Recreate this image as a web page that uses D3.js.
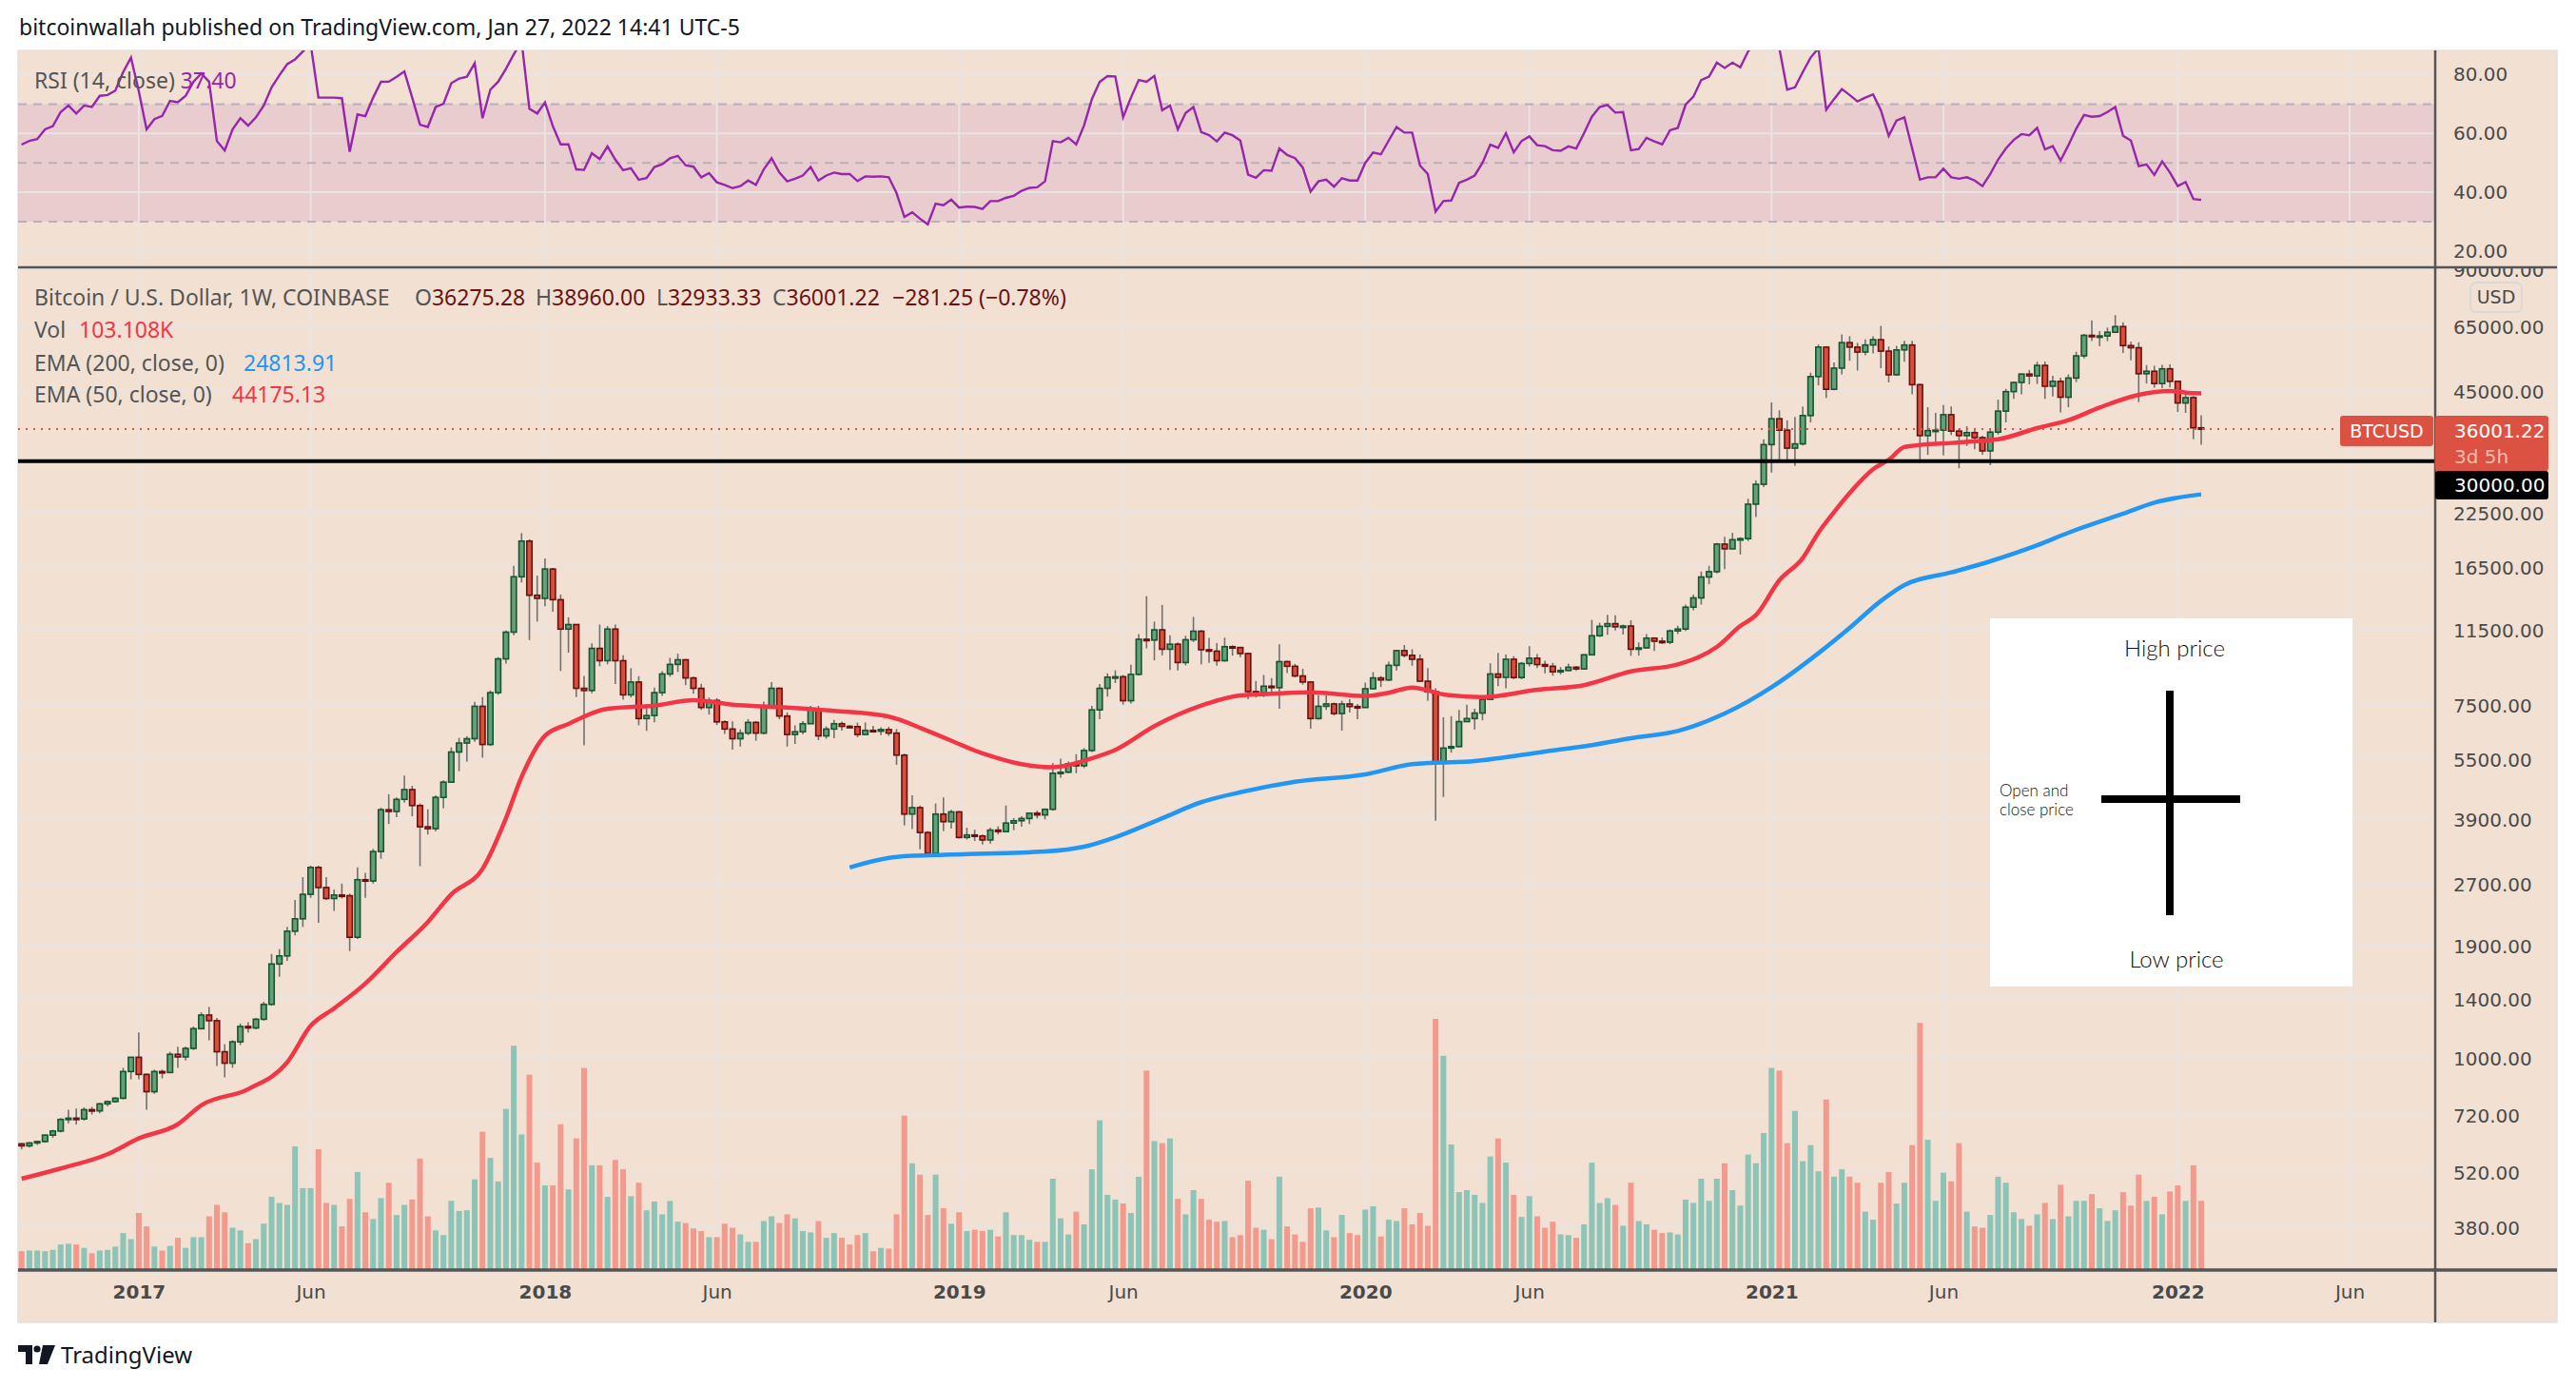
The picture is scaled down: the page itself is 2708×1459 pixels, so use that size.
<!DOCTYPE html>
<html lang="en">
<head>
<meta charset="utf-8">
<title>BTCUSD 1W - TradingView</title>
<script src="https://cdn.jsdelivr.net/npm/d3@7"></script>
<style>
  body { margin: 0; background: #fff; }
  svg { display: block; }
</style>
</head>
<body>
<div id="chart"></div>
<script>
// weekly bars, first bar = week of 2016-09-19, last = week of 2022-01-24
var closes = [
  602,612,617,640,655,700,705,702,740,735,
  765,775,790,920,998,905,820,920,915,1015,
  1000,1050,1175,1270,1230,1030,965,1090,1190,1180,
  1240,1350,1700,1780,2050,2200,2530,2950,2630,2470,
  2520,2510,1980,2750,2730,3230,4100,4060,4350,4600,
  4200,3720,3680,4400,4800,5700,6000,6150,7400,5950,
  8000,9700,11300,15500,19000,13950,13700,16200,13600,11500,
  11800,8200,8100,10300,9600,11500,9600,7900,8500,6900,
  7020,8000,8900,9400,9650,8700,8200,7350,7650,6770,
  6500,6150,6350,6750,6350,7400,8200,7000,6300,6400,
  6700,7300,6250,6500,6700,6600,6590,6300,6450,6420,
  6480,6350,5600,4000,4150,3600,3200,4000,3830,4050,
  3500,3550,3530,3450,3650,3620,3800,3850,3900,4020,
  3980,4110,5050,5080,5330,5270,5750,7250,8200,8740,
  8760,7640,8880,10850,10800,11450,10250,10550,9500,10820,
  11360,10220,10140,9600,10400,10350,10000,8050,7990,8300,
  8230,9550,9300,8800,8500,6900,7400,7500,7100,7500,
  7390,7350,8180,8700,8600,9350,10170,9900,9680,8540,
  8040,5360,5830,5880,6780,6900,7120,7700,8900,8730,
  9680,8720,9450,9740,9390,9300,9010,9080,9250,9160,
  9930,11070,11680,11860,11650,11700,10250,10330,10920,10730,
  10670,11380,11500,13030,13740,15480,15960,18680,18180,19150,
  19270,23460,26280,32960,38200,35800,32300,33100,38900,48600,
  57500,45200,51000,59000,57500,55900,58200,60000,56200,49100,
  56600,58200,46400,34700,35700,35800,39100,35600,34700,35300,
  34300,31800,35400,39900,44600,47000,49300,48800,51800,46000,
  47300,43200,48200,54700,61500,61000,61300,62600,64650,58000,
  57300,49400,50100,46700,50800,47300,41800,43100,36282.47,36001.22
];
var highs = [
  611,615,620,642,660,705,740,745,750,752,
  770,780,795,940,1000,1150,910,930,930,1030,
  1060,1060,1190,1290,1330,1250,1075,1100,1210,1220,
  1250,1370,1800,1850,2100,2450,2790,2980,2980,2790,
  2600,2690,2540,2950,2860,3280,4150,4480,4400,4980,
  4700,4250,4110,4450,4850,5850,6180,6240,7590,7800,
  8100,9800,11400,16500,19891,19200,15600,17200,16300,14000,
  12300,11800,8800,10600,11800,11700,11800,9900,9200,8790,
  7500,8230,9040,9760,9990,9690,8760,8420,7780,7750,
  6830,6790,6490,6880,6800,7600,8500,8240,7150,6640,
  6800,7420,7420,6600,6850,6780,6650,6740,6750,6620,
  6560,6580,6500,5650,4450,4200,3630,4250,4400,4100,
  4070,3700,3660,3560,3700,3730,4200,3910,3950,4030,
  4080,4130,5350,5490,5400,5630,5830,7420,8400,8930,
  9090,8850,9380,11170,13880,12000,13200,11100,10660,11070,
  12330,11440,10940,10620,10950,10480,10350,10050,8550,8850,
  8690,10550,9600,9430,9170,8500,7880,7870,7560,7640,
  7700,7500,8470,9000,8800,9550,10190,10500,10250,9950,
  9200,8200,6950,7000,7250,7470,7300,7790,9460,10040,
  9940,9850,9530,10430,9970,9600,9480,9260,9440,9300,
  9960,12120,11920,12470,12440,11800,12090,10660,11180,10970,
  10960,11480,11720,13220,14000,15970,16500,18800,19480,19920,
  19420,24200,26860,34000,41950,40100,37850,38600,41000,49700,
  58350,57500,52650,61780,61200,58900,60100,61200,64900,57700,
  57900,59600,59600,46700,40800,39500,41300,41000,36200,36600,
  35900,34700,36000,42600,45300,47200,49400,50500,52900,52950,
  48800,48300,49200,56000,62000,67000,63000,64300,69000,66300,
  59300,59100,51900,51700,52000,52100,47500,44500,43500,38960
];
var lows = [
  590,596,605,613,630,650,685,680,695,720,
  725,755,770,785,880,880,740,810,885,915,
  940,980,1040,1170,1100,950,890,940,1070,1150,
  1170,1230,1340,1580,1730,2000,2100,2480,2150,2450,
  2300,2470,1830,1960,2480,2690,3100,3780,3930,4270,
  3950,2970,3560,3620,4140,4780,5110,5400,6040,5520,
  5900,7900,9440,11100,15000,10800,12000,13100,12700,9050,
  10050,7800,5920,7970,9300,9400,8400,7680,7780,6640,
  6430,6750,7850,8760,9000,8350,7950,7250,7060,6650,
  6320,5780,5880,6280,6080,6310,7360,6870,5880,5970,
  6300,6690,6100,6150,6170,6440,6520,6200,6300,6380,
  6280,6250,5300,3750,3670,3270,3130,3200,3630,3680,
  3480,3460,3430,3360,3380,3560,3600,3650,3720,3780,
  3900,3880,4080,4920,5050,5050,5200,5700,6870,7820,
  8450,7470,7520,8810,10300,9620,9900,9100,9080,9350,
  10680,9400,9480,9330,9550,9880,9800,7710,7780,7800,
  7880,7300,8950,8730,8370,6510,6860,7250,7020,6440,
  7140,6870,7350,8150,8260,8540,9080,9780,9330,8540,
  7640,3850,4410,5680,5860,6770,6480,6830,7700,8300,
  8200,8640,8640,9290,9200,8930,8810,8880,9040,9050,
  9140,9930,11000,11130,11400,11150,9870,9880,10270,10150,
  10560,10550,11180,11380,12800,13220,14850,15800,16200,18130,
  17600,19000,21800,25880,28100,30300,30000,29200,32800,37400,
  46200,43000,44950,49200,53200,50300,54900,55500,51000,47000,
  48800,52900,43900,30000,31100,33400,31000,34800,28800,32700,
  32100,31100,29300,34900,37400,42800,43900,46500,46600,42800,
  43400,39600,40800,47100,53900,59500,57800,59500,62300,55600,
  53300,42000,46700,45600,45500,45700,39700,39500,34000,32933.33
];
// opens follow the previous close except where the feed shows a gap
var openGaps = [[0, 609], [279, 36275.28]];
// weekly volume, thousands of BTC
var volumes = [
  28,29,29,28,30,38,39,38,33,25,
  29,30,35,55,46,85,65,35,29,36,
  48,33,49,49,80,97,86,63,59,40,
  46,69,109,100,97,184,122,122,180,100,
  97,65,106,146,86,76,107,130,82,97,
  105,166,80,59,52,103,88,89,135,206,
  167,132,240,334,202,291,160,126,126,217,
  120,196,301,156,156,109,164,150,110,130,
  89,102,83,103,72,70,62,58,49,49,
  69,63,53,42,42,73,80,70,83,77,
  58,56,73,48,55,48,38,52,55,28,
  33,32,83,230,159,142,82,142,92,69,
  86,58,60,58,60,50,86,52,52,45,
  42,42,136,77,53,87,68,150,223,112,
  105,99,85,139,297,192,189,196,106,83,
  119,106,75,72,73,49,52,133,63,60,
  46,139,65,53,42,92,93,59,49,82,
  55,52,90,95,50,75,73,92,68,85,
  66,374,319,187,116,119,112,100,169,196,
  160,112,79,110,80,63,72,53,52,48,
  68,160,100,107,97,66,130,73,68,60,
  55,56,53,105,100,136,103,136,159,119,
  96,172,159,204,301,297,189,237,162,186,
  147,254,139,150,139,130,87,75,130,146,
  99,130,186,368,194,103,145,132,189,87,
  65,63,82,139,130,86,76,66,83,100,
  76,127,80,103,103,113,92,73,89,116,
  96,142,103,109,83,117,126,103,156,103.108
];
var rsiValues = [
  56.2,57.5,58.1,61.4,62.5,67.3,69.5,66.8,69.5,69.0,
  72.8,73.1,74.6,80.9,85.8,74.4,61.4,64.9,66.0,71.1,
  70.6,72.8,77.6,80.4,77.6,57.4,54.2,61.4,65.2,62.7,
  65.5,69.5,75.7,79.8,83.6,85.2,87.9,90.5,72.2,72.2,
  72.2,72.0,53.8,66.5,65.9,72.2,77.6,77.6,79.3,81.1,
  72.2,63.0,62.2,69.0,70.1,77.1,78.7,79.3,83.9,65.2,
  74.9,77.6,82.0,86.9,91.5,68.4,66.8,70.6,62.5,56.3,
  56.3,47.8,47.6,53.3,51.3,55.6,51.1,47.5,48.2,44.3,
  44.8,48.6,49.5,51.6,52.4,49.2,48.7,45.1,46.5,43.4,
  42.5,41.4,42.1,44.0,42.5,47.8,51.6,46.7,43.7,44.6,
  45.7,48.6,44.0,45.7,46.7,46.2,46.2,43.8,45.4,45.3,
  45.4,45.1,39.7,31.6,33.2,31.0,29.1,36.1,35.6,37.5,
  34.8,35.1,35.0,34.3,37.0,37.0,38.1,38.8,40.5,41.5,
  41.7,43.7,57.4,57.0,58.5,56.3,62.7,71.7,77.6,79.5,
  79.4,65.5,72.2,78.2,77.6,79.6,67.9,69.5,61.4,67.0,
  69.0,60.5,59.4,57.3,60.3,59.4,57.6,46.0,44.9,47.5,
  47.3,54.9,52.7,51.6,48.4,40.2,43.7,44.3,41.9,44.8,
  44.0,44.0,50.0,53.5,52.9,57.6,62.2,60.3,60.3,49.1,
  46.2,33.4,37.0,37.2,43.2,44.3,45.7,50.0,56.2,55.1,
  60.1,53.6,57.4,59.0,56.0,55.7,54.3,54.1,55.6,54.9,
  60.1,65.7,69.0,69.7,67.1,67.3,54.3,54.7,58.5,57.3,
  56.3,61.1,61.9,69.8,72.5,78.2,79.3,84.1,82.3,84.1,
  82.5,87.9,91.0,93.5,94.5,89.0,74.9,75.7,80.9,85.8,
  89.0,68.1,71.7,75.1,73.1,70.9,72.2,73.3,67.9,59.2,
  64.4,65.5,54.9,44.3,45.1,45.1,48.0,45.1,44.6,45.1,
  44.0,42.1,46.2,51.1,54.9,57.8,59.8,59.4,61.9,54.6,
  55.7,50.8,56.0,61.6,66.3,65.7,65.9,67.3,69.0,59.2,
  57.6,48.9,49.5,45.9,50.5,46.7,42.1,43.5,37.7,37.4
];
// EMA lines: bar index and value
var ema50Idx = [0,5,11,15,20,23,29,34,37,40,44,48,52,55,59,62,64,67,70,75,81,86,91,97,104,111,116,123,128,132,137,140,145,151,156,160,165,172,175,178,182,187,194,200,206,212,217,220,222,225,228,230,232,234,237,239,241,243,247,251,253,258,262,266,271,275,277,279];
var ema50Val = [499,529,574,628,681,759,832,970,1194,1319,1520,1820,2160,2530,2925,3905,4945,6258,6692,7295,7430,7660,7470,7365,7210,6977,6430,5660,5320,5225,5500,5770,6607,7430,7870,7945,8015,7850,7995,8240,7920,7800,8130,8350,9030,9400,10385,11700,12450,15190,17245,19930,22420,25000,28640,30230,32500,32890,33270,33700,33980,36220,37890,40740,43800,44780,44360,44175.13];
var ema200Idx = [106,112,119,131,136,140,146,151,156,163,172,178,186,195,201,206,212,218,224,230,234,238,241,247,252,258,262,269,273,279];
var ema200Val = [2950,3133,3175,3230,3320,3505,3906,4280,4530,4810,5015,5318,5414,5717,5930,6170,6430,7100,8250,10020,11580,13505,14790,15890,16935,18550,19930,22220,23670,24813.91];

var priceTicks = [90000,65000,45000,22500,16500,11500,7500,5500,3900,2700,1900,1400,1000,720,520,380];
var rsiTicks = [80,60,40,20];
var rsiLevels = [70,50,30];
var timeTickIdx = [15,37,67,89,120,141,172,193,224,246,276,298];
var timeTickLabels = ["2017","Jun","2018","Jun","2019","Jun","2020","Jun","2021","Jun","2022","Jun"];
var keyLevel = 30000;

//Layout
var W = 2708, H = 1459;
var padL = 19, padR = 2688, axisX = 2560;
var paneTop = 53, divY = 281, timeY = 1335, paneBottom = 1390;
var bg = "#f2e1d3", gridColor = "#e9e3e4", textColor = "#4a4a4a";
var axisFont = "'DejaVu Sans', sans-serif";
var uiFont = "'Noto Sans', 'Liberation Sans', sans-serif";

var opens = closes.map(function(c, i) { return i === 0 ? c : closes[i - 1]; });
openGaps.forEach(function(g) { opens[g[0]] = g[1]; });
var last = closes.length - 1;

var svg = d3.select("#chart").append("svg")
  .attr("width", W).attr("height", H);

var x = d3.scaleLinear().domain([0, last]).range([22.7, 2314]);
var y = d3.scaleLog().domain([1000, 65000]).range([1111, 342.3]);
var yRsi = d3.scaleLinear().domain([30, 70]).range([233, 109.4]);
var yVol = d3.scaleLinear().domain([0, d3.max(volumes)]).range([timeY, timeY - 264]);

var defs = svg.append("defs");
defs.append("clipPath").attr("id", "mainClip").append("rect")
  .attr("x", padL).attr("y", divY).attr("width", axisX - padL).attr("height", timeY - divY);
defs.append("clipPath").attr("id", "rsiClip").append("rect")
  .attr("x", padL).attr("y", paneTop).attr("width", axisX - padL).attr("height", divY - paneTop);
defs.append("clipPath").attr("id", "mainAxisClip").append("rect")
  .attr("x", axisX).attr("y", divY + 1).attr("width", padR - axisX).attr("height", timeY - divY);

svg.append("text").attr("x", 20).attr("y", 37)
  .attr("font-family", uiFont).attr("font-size", 23).attr("fill", "#131722")
  .text("bitcoinwallah published on TradingView.com, Jan 27, 2022 14:41 UTC-5");

svg.append("rect").attr("x", padL).attr("y", paneTop)
  .attr("width", padR - padL).attr("height", paneBottom - paneTop)
  .attr("fill", bg).attr("stroke", "#e3e0e0").attr("stroke-width", 1.5);

// RSI band
svg.append("rect").attr("x", padL).attr("y", yRsi(70))
  .attr("width", axisX - padL).attr("height", yRsi(30) - yRsi(70))
  .attr("fill", "rgba(156,39,176,0.11)");

// grid
var grid = svg.append("g").attr("stroke", gridColor).attr("stroke-width", 2);
grid.selectAll(".vg").data(timeTickIdx).enter().append("line")
  .attr("x1", function(d) { return x(d); }).attr("x2", function(d) { return x(d); })
  .attr("y1", paneTop).attr("y2", timeY);
grid.selectAll(".rg").data(rsiTicks).enter().append("line")
  .attr("x1", padL).attr("x2", axisX)
  .attr("y1", function(d) { return yRsi(d); }).attr("y2", function(d) { return yRsi(d); });
grid.selectAll(".pg").data(priceTicks).enter().append("line")
  .attr("x1", padL).attr("x2", axisX)
  .attr("y1", function(d) { return y(d); }).attr("y2", function(d) { return y(d); });

svg.selectAll(".rsiLevel").data(rsiLevels).enter().append("line")
  .attr("x1", padL).attr("x2", axisX)
  .attr("y1", function(d) { return yRsi(d); }).attr("y2", function(d) { return yRsi(d); })
  .attr("stroke", "#b9aebd").attr("stroke-width", 2).attr("stroke-dasharray", "9,7");

svg.append("path").datum(rsiValues)
  .attr("clip-path", "url(#rsiClip)")
  .attr("fill", "none").attr("stroke", "#9626ac").attr("stroke-width", 2.4)
  .attr("d", d3.line().x(function(d, i) { return x(i); }).y(function(d) { return yRsi(d); }));

// volume
var main = svg.append("g").attr("clip-path", "url(#mainClip)");
main.selectAll(".vol").data(volumes).enter().append("rect")
  .attr("x", function(d, i) { return x(i) - 3; })
  .attr("width", 6)
  .attr("y", function(d) { return yVol(d); })
  .attr("height", function(d) { return timeY - yVol(d); })
  .attr("fill", function(d, i) { return closes[i] >= opens[i] ? "#8cc4b7" : "#f29a8d"; });

// candles
var candles = main.selectAll(".candle").data(closes).enter().append("g");
candles.append("line")
  .attr("x1", function(d, i) { return x(i); }).attr("x2", function(d, i) { return x(i); })
  .attr("y1", function(d, i) { return y(highs[i]); })
  .attr("y2", function(d, i) { return y(lows[i]); })
  .attr("stroke", "#707070").attr("stroke-width", 1.6);
candles.append("rect")
  .attr("x", function(d, i) { return x(i) - 2.75; })
  .attr("width", 5.5)
  .attr("y", function(d, i) { return y(Math.max(d, opens[i])); })
  .attr("height", function(d, i) { return Math.max(1.5, y(Math.min(d, opens[i])) - y(Math.max(d, opens[i]))); })
  .attr("fill", function(d, i) { return d >= opens[i] ? "#64a079" : "#d7503c"; })
  .attr("stroke", function(d, i) { return d >= opens[i] ? "#16552f" : "#6a0f0f"; })
  .attr("stroke-width", 1.6);

// EMAs
var emaLine = d3.line()
  .x(function(d) { return x(d[0]); }).y(function(d) { return y(d[1]); })
  .curve(d3.curveMonotoneX);
main.append("path").datum(d3.zip(ema200Idx, ema200Val))
  .attr("fill", "none").attr("stroke", "#2196f3").attr("stroke-width", 4.5)
  .attr("d", emaLine);
main.append("path").datum(d3.zip(ema50Idx, ema50Val))
  .attr("fill", "none").attr("stroke", "#f23645").attr("stroke-width", 4.5)
  .attr("d", emaLine);

// horizontal level and last price line
main.append("line").attr("x1", padL).attr("x2", axisX)
  .attr("y1", y(keyLevel)).attr("y2", y(keyLevel))
  .attr("stroke", "#000").attr("stroke-width", 4);
main.append("line").attr("x1", padL).attr("x2", 2459)
  .attr("y1", y(closes[last])).attr("y2", y(closes[last]))
  .attr("stroke", "#e0533f").attr("stroke-width", 2).attr("stroke-dasharray", "2,6");

// candle explainer box
var box = svg.append("g");
box.append("rect").attr("x", 2092).attr("y", 650).attr("width", 381).attr("height", 387).attr("fill", "#fff");
box.append("line").attr("x1", 2281).attr("x2", 2281).attr("y1", 726).attr("y2", 962)
  .attr("stroke", "#000").attr("stroke-width", 8);
box.append("line").attr("x1", 2209).attr("x2", 2355).attr("y1", 840).attr("y2", 840)
  .attr("stroke", "#000").attr("stroke-width", 8);
var boxFont = "Lato, 'Noto Sans', sans-serif";
box.append("text").attr("x", 2286).attr("y", 690).attr("text-anchor", "middle")
  .attr("font-family", boxFont).attr("font-weight", 300).attr("font-size", 24).attr("fill", "#111")
  .text("High price");
box.append("text").attr("x", 2288).attr("y", 1017).attr("text-anchor", "middle")
  .attr("font-family", boxFont).attr("font-weight", 300).attr("font-size", 24).attr("fill", "#111")
  .text("Low price");
box.append("text").attr("x", 2102).attr("y", 837)
  .attr("font-family", boxFont).attr("font-weight", 300).attr("font-size", 17).attr("fill", "#111")
  .text("Open and");
box.append("text").attr("x", 2102).attr("y", 857)
  .attr("font-family", boxFont).attr("font-weight", 300).attr("font-size", 17).attr("fill", "#111")
  .text("close price");

// frame lines
svg.append("line").attr("x1", padL).attr("x2", padR).attr("y1", divY).attr("y2", divY)
  .attr("stroke", "#555").attr("stroke-width", 2.5);
svg.append("line").attr("x1", axisX).attr("x2", axisX).attr("y1", paneTop).attr("y2", paneBottom)
  .attr("stroke", "#555").attr("stroke-width", 2.5);
svg.append("line").attr("x1", padL).attr("x2", padR).attr("y1", timeY).attr("y2", timeY)
  .attr("stroke", "#555").attr("stroke-width", 3.5);

// price axis
var pAxis = svg.append("g").attr("clip-path", "url(#mainAxisClip)")
  .append("g").attr("transform", "translate(" + axisX + ",2)")
  .call(d3.axisRight(y).tickValues(priceTicks).tickFormat(d3.format(".2f")).tickSize(0).tickPadding(19));
pAxis.select(".domain").remove();
pAxis.selectAll("text").attr("font-family", axisFont).attr("font-size", 20).attr("fill", textColor);

var rAxis = svg.append("g").attr("transform", "translate(" + axisX + ",0)")
  .call(d3.axisRight(yRsi).tickValues(rsiTicks).tickFormat(d3.format(".2f")).tickSize(0).tickPadding(19));
rAxis.select(".domain").remove();
rAxis.selectAll("text").attr("font-family", axisFont).attr("font-size", 20).attr("fill", textColor);

// time axis
var tAxis = svg.append("g").attr("transform", "translate(0," + timeY + ")")
  .call(d3.axisBottom(x).tickValues(timeTickIdx)
    .tickFormat(function(d, i) { return timeTickLabels[i]; }).tickSize(0).tickPadding(16));
tAxis.select(".domain").remove();
tAxis.selectAll("text").attr("font-family", axisFont).attr("font-size", 20).attr("fill", textColor)
  .attr("font-weight", function(d, i) { return timeTickLabels[i] === "Jun" ? 400 : 700; });

// USD badge
svg.append("rect").attr("x", 2597).attr("y", 297).attr("width", 54).attr("height", 31).attr("rx", 6)
  .attr("fill", "none").attr("stroke", "#dcd8d8").attr("stroke-width", 2);
svg.append("text").attr("x", 2624).attr("y", 319).attr("text-anchor", "middle")
  .attr("font-family", axisFont).attr("font-size", 19).attr("fill", textColor).text("USD");

// price tags
var fmt2 = d3.format(".2f");
svg.append("rect").attr("x", 2460).attr("y", 437).attr("width", 98).attr("height", 32).attr("rx", 3)
  .attr("fill", "#dc5242");
svg.append("text").attr("x", 2509).attr("y", 460).attr("text-anchor", "middle")
  .attr("font-family", axisFont).attr("font-size", 19).attr("fill", "#fff").text("BTCUSD");
svg.append("rect").attr("x", 2560).attr("y", 437).attr("width", 119).attr("height", 58).attr("rx", 3)
  .attr("fill", "#dc5242");
svg.append("text").attr("x", 2580).attr("y", 460)
  .attr("font-family", axisFont).attr("font-size", 20).attr("fill", "#fff").text(fmt2(closes[last]));
svg.append("text").attr("x", 2580).attr("y", 487)
  .attr("font-family", axisFont).attr("font-size", 20).attr("fill", "#f6b9ad").text("3d 5h");
svg.append("rect").attr("x", 2560).attr("y", 495).attr("width", 119).attr("height", 30).attr("rx", 3)
  .attr("fill", "#000");
svg.append("text").attr("x", 2580).attr("y", 517)
  .attr("font-family", axisFont).attr("font-size", 20).attr("fill", "#fff").text(fmt2(keyLevel));

// legends
var labelColor = "#555", valueColor = "#6b1313";
function legend(yPos, parts) {
  var t = svg.append("text").attr("y", yPos).attr("font-family", uiFont).attr("font-size", 23);
  parts.forEach(function(p) {
    var s = t.append("tspan").attr("fill", p[2] || labelColor).text(p[1]);
    if (p[0] !== null) s.attr("x", p[0]);
  });
}
var change = closes[last] - closes[last - 1];
var pct = change / closes[last - 1] * 100;
var minus = function(v) { return fmt2(v).replace("-", "\u2212"); };
legend(93, [[36, "RSI (14, close) "], [null, fmt2(rsiValues[last]), "#9626ac"]]);
legend(321, [[36, "Bitcoin / U.S. Dollar, 1W, COINBASE"],
  [436, "O"], [null, fmt2(opens[last]), valueColor],
  [563, "H"], [null, fmt2(highs[last]), valueColor],
  [690, "L"], [null, fmt2(lows[last]), valueColor],
  [812, "C"], [null, fmt2(closes[last]), valueColor],
  [938, minus(change) + " (" + minus(pct) + "%)", valueColor]]);
legend(355, [[36, "Vol "], [83, d3.format(".3f")(volumes[last]) + "K", "#f23645"]]);
legend(390, [[36, "EMA (200, close, 0) "], [256, fmt2(ema200Val[ema200Val.length - 1]), "#2196f3"]]);
legend(423, [[36, "EMA (50, close, 0) "], [244, fmt2(ema50Val[ema50Val.length - 1]), "#f23645"]]);

// TradingView mark
var logo = svg.append("g").attr("fill", "#131722");
logo.append("path").attr("d", "M19,1414 H34 V1434 H27 V1421 H19 Z");
logo.append("circle").attr("cx", 39).attr("cy", 1418).attr("r", 3.6);
logo.append("path").attr("d", "M45,1414 H58 L50,1434 H41 Z");
svg.append("text").attr("x", 64).attr("y", 1433)
  .attr("font-family", uiFont).attr("font-size", 24).attr("fill", "#131722").text("TradingView");
</script>
</body>
</html>
